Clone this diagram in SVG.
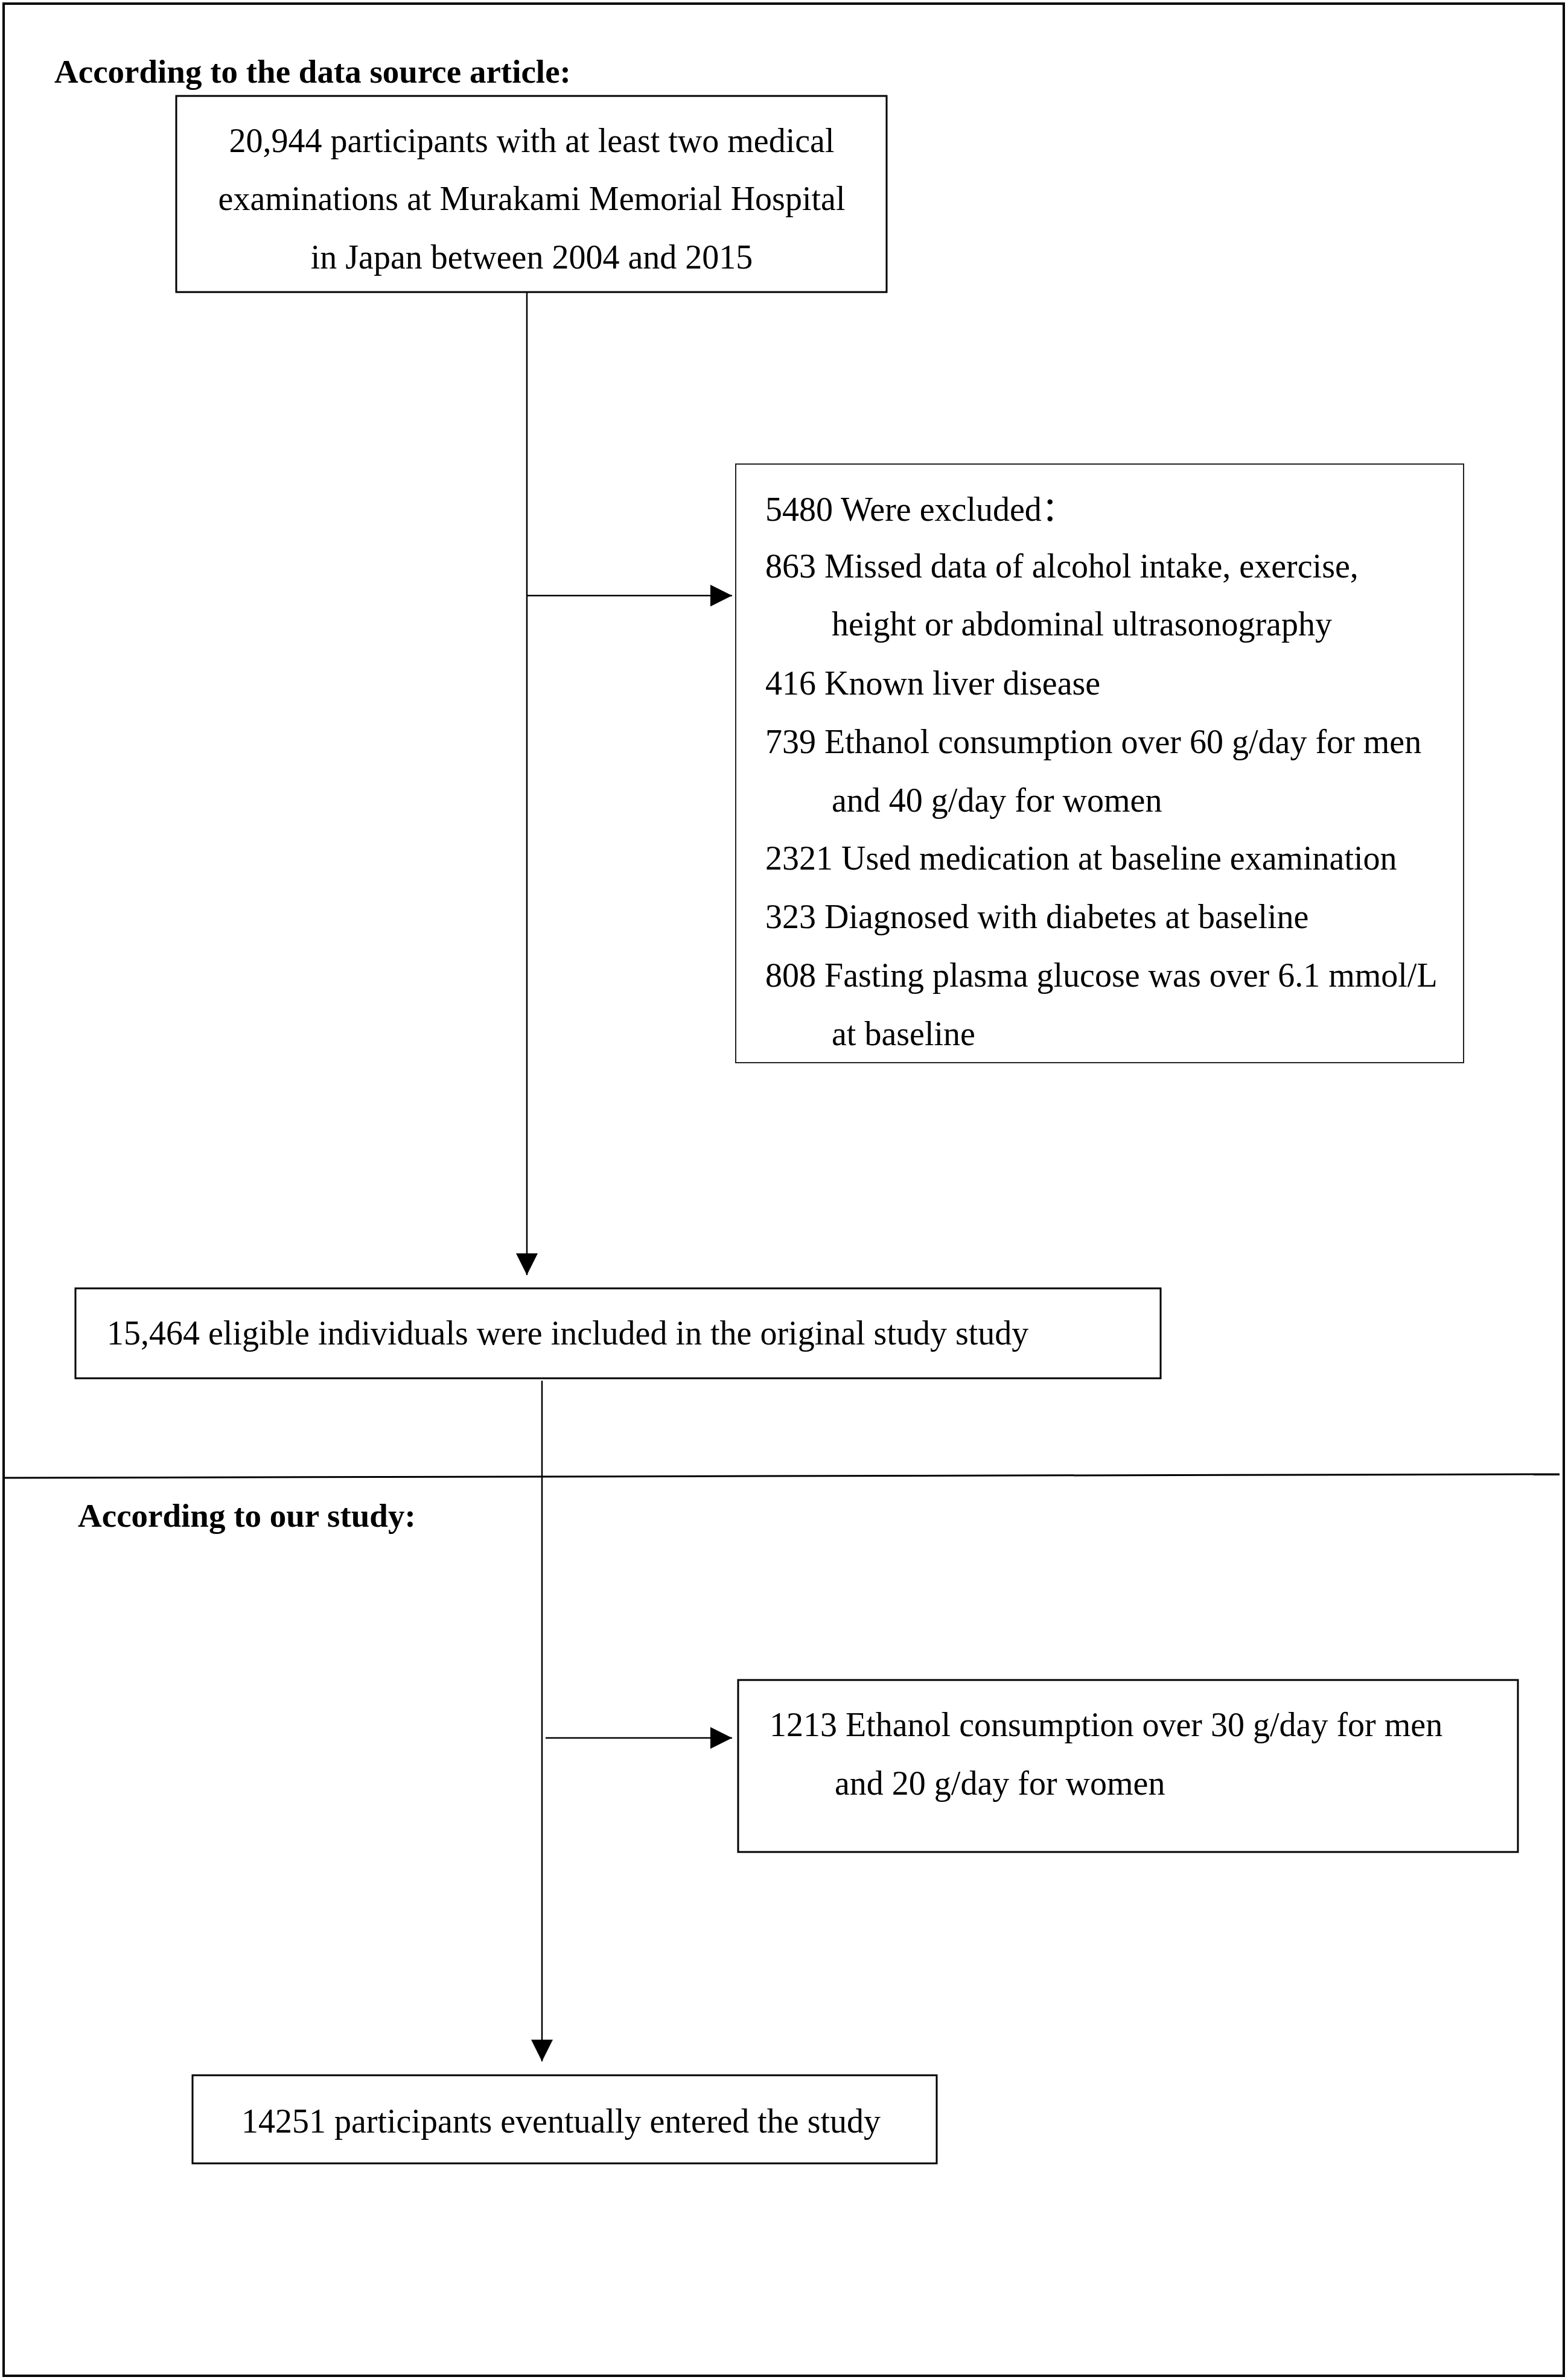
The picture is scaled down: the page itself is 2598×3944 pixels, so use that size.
<svg xmlns="http://www.w3.org/2000/svg" width="2598" height="3944" viewBox="0 0 2598 3944">
<style>
.t{font-family:"Liberation Serif","Times New Roman","Noto Sans CJK SC",serif;font-size:56px;fill:#000}
.h{font-family:"Liberation Serif","Times New Roman",serif;font-size:55px;font-weight:bold;fill:#000}
.box{fill:#fff;stroke:#000;stroke-width:3}
.thin{fill:#fff;stroke:#222;stroke-width:2}
.con{fill:none;stroke:#000;stroke-width:2.5}
</style>
<defs>
<marker id="arr" viewBox="0 0 36 36" refX="36" refY="18" markerWidth="36" markerHeight="36" markerUnits="userSpaceOnUse" orient="auto">
<path d="M0,0 L36,18 L0,36 z" fill="#000"/>
</marker>
</defs>
<rect x="0" y="0" width="2598" height="3944" fill="#fff"/>
<rect x="6" y="6" width="2585" height="3931" fill="none" stroke="#000" stroke-width="4"/>
<line x1="6" y1="2449" x2="2584" y2="2443" stroke="#000" stroke-width="3"/>
<text class="h" x="90" y="137">According to the data source article:</text>
<text class="h" x="129" y="2530">According to our study:</text>
<g id="connectors">
<line class="con" x1="873" y1="484" x2="873" y2="2113" marker-end="url(#arr)"/>
<line class="con" x1="873" y1="987" x2="1213" y2="987" marker-end="url(#arr)"/>
<line class="con" x1="898" y1="2288" x2="898" y2="3416" marker-end="url(#arr)"/>
<line class="con" x1="904" y1="2880" x2="1213" y2="2880" marker-end="url(#arr)"/>
</g>
<g id="node-source">
<rect class="box" x="292" y="159" width="1177" height="325"/>
<text class="t" x="881" y="252" text-anchor="middle">20,944 participants with at least two medical</text>
<text class="t" x="881" y="348" text-anchor="middle">examinations at Murakami Memorial Hospital</text>
<text class="t" x="881" y="445" text-anchor="middle">in Japan between 2004 and 2015</text>
</g>
<g id="node-excluded1">
<rect class="thin" x="1219" y="769" width="1206" height="992"/>
<text class="t" x="1268" y="863">5480 Were excluded：</text>
<text class="t" x="1268" y="957">863 Missed data of alcohol intake, exercise,</text>
<text class="t" x="1378" y="1053">height or abdominal ultrasonography</text>
<text class="t" x="1268" y="1151">416 Known liver disease</text>
<text class="t" x="1268" y="1248">739 Ethanol consumption over 60 g/day for men</text>
<text class="t" x="1378" y="1345">and 40 g/day for women</text>
<text class="t" x="1268" y="1441">2321 Used medication at baseline examination</text>
<text class="t" x="1268" y="1538">323 Diagnosed with diabetes at baseline</text>
<text class="t" x="1268" y="1635">808 Fasting plasma glucose was over 6.1 mmol/L</text>
<text class="t" x="1378" y="1732">at baseline</text>
</g>
<g id="node-eligible">
<rect class="box" x="125" y="2135" width="1798" height="149"/>
<text class="t" x="177" y="2228">15,464 eligible individuals were included in the original study study</text>
</g>
<g id="node-excluded2">
<rect class="box" x="1223" y="2784" width="1292" height="285"/>
<text class="t" x="1275" y="2877">1213 Ethanol consumption over 30 g/day for men</text>
<text class="t" x="1383" y="2974">and 20 g/day for women</text>
</g>
<g id="node-final">
<rect class="box" x="319" y="3439" width="1233" height="146"/>
<text class="t" x="400" y="3534">14251 participants eventually entered the study</text>
</g>
</svg>
